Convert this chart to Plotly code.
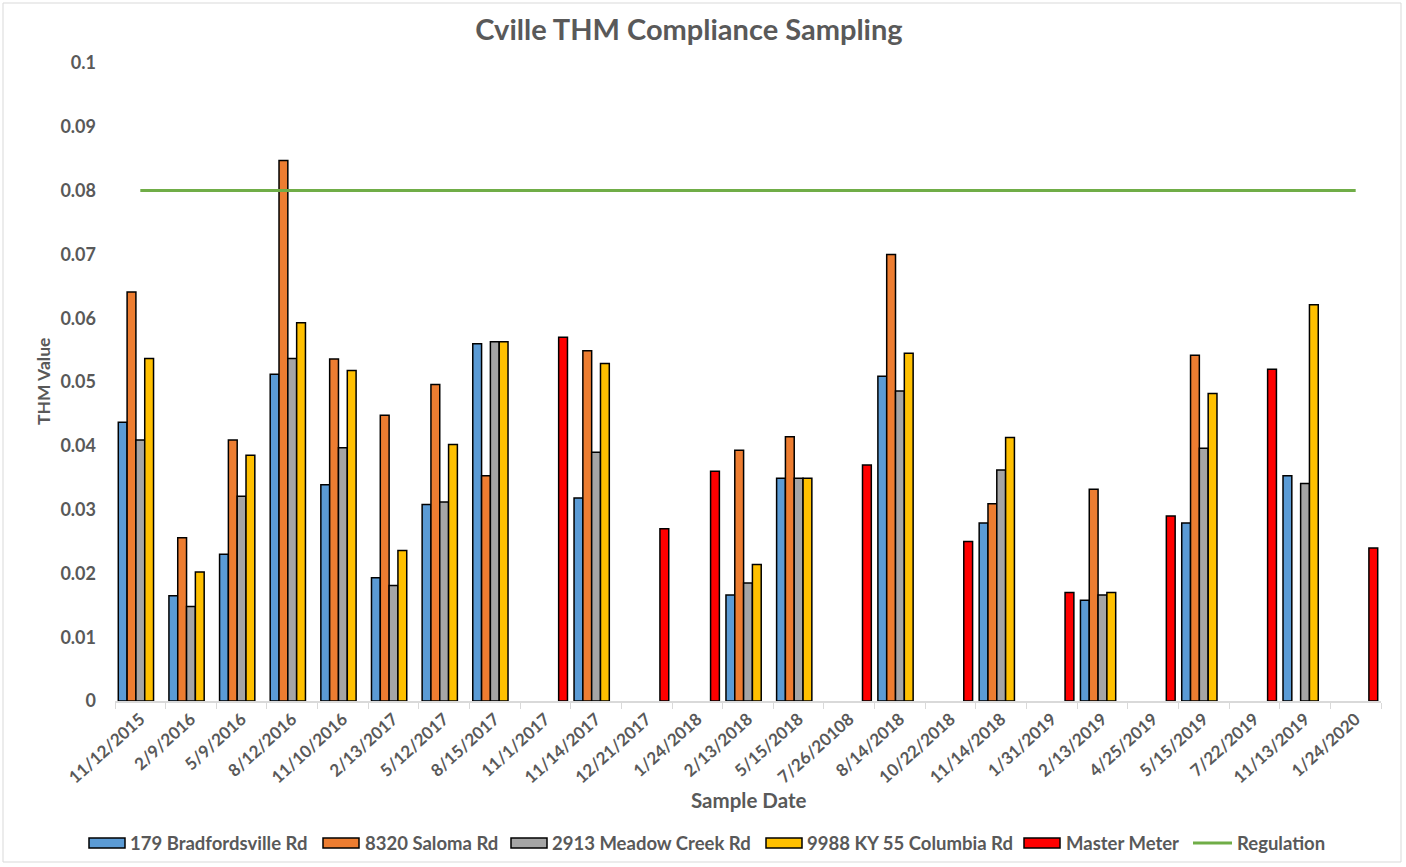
import plotly.graph_objects as go

dates = ["11/12/2015", "2/9/2016", "5/9/2016", "8/12/2016", "11/10/2016", "2/13/2017",
         "5/12/2017", "8/15/2017", "11/1/2017", "11/14/2017", "12/21/2017", "1/24/2018",
         "2/13/2018", "5/15/2018", "7/26/20108", "8/14/2018", "10/22/2018", "11/14/2018",
         "1/31/2019", "2/13/2019", "4/25/2019", "5/15/2019", "7/22/2019", "11/13/2019",
         "1/24/2020"]

bradfordsville = [0.0437, 0.0165, 0.0230, 0.0512, 0.0339, 0.0193, 0.0308, 0.0560, None, 0.0318,
                  None, None, 0.0166, 0.0349, None, 0.0509, None, 0.0279, None, 0.0158,
                  None, 0.0279, None, 0.0353, None]
saloma = [0.0641, 0.0256, 0.0409, 0.0847, 0.0536, 0.0448, 0.0496, 0.0353, None, 0.0549,
          None, None, 0.0393, 0.0414, None, 0.0700, None, 0.0309, None, 0.0332,
          None, 0.0542, None, None, None]
meadow_creek = [0.0409, 0.0148, 0.0321, 0.0537, 0.0397, 0.0181, 0.0312, 0.0563, None, 0.0390,
                None, None, 0.0185, 0.0349, None, 0.0486, None, 0.0362, None, 0.0166,
                None, 0.0396, None, 0.0341, None]
columbia = [0.0537, 0.0202, 0.0385, 0.0593, 0.0518, 0.0236, 0.0402, 0.0563, None, 0.0529,
            None, None, 0.0214, 0.0349, None, 0.0545, None, 0.0413, None, 0.0170,
            None, 0.0482, None, 0.0621, None]
master_meter = [None, None, None, None, None, None, None, None, 0.057, None,
                0.027, 0.036, None, None, 0.037, None, 0.025, None, 0.017, None,
                0.029, None, 0.052, None, 0.024]
regulation_limit = 0.08
y_ticks = [0, 0.01, 0.02, 0.03, 0.04, 0.05, 0.06, 0.07, 0.08, 0.09, 0.1]

series = [
    ("179 Bradfordsville Rd", bradfordsville, "#5B9BD5"),
    ("8320 Saloma Rd", saloma, "#ED7D31"),
    ("2913 Meadow Creek Rd", meadow_creek, "#A5A5A5"),
    ("9988 KY 55 Columbia Rd", columbia, "#FFC000"),
    ("Master Meter", master_meter, "#FF0000"),
]
reg_name = "Regulation"
reg_color = "#70AD47"

FONT = "Lato"
TXT = "#595959"

fig = go.Figure()
for name, vals, col in series:
    fig.add_trace(go.Bar(x=dates, y=vals, name=name,
                         marker=dict(color=col, line=dict(color="#000000", width=1.5))))

fig.add_trace(go.Scatter(x=dates, y=[regulation_limit] * len(dates), name=reg_name,
                         mode="lines", line=dict(color=reg_color, width=3)))

L, R, T, B = 115, 25, 63, 166
W, H = 1406, 867
pw = W - L - R
ph = H - T - B


def px(x):
    return (x - L) / pw


def py(y):
    return (H - B - y) / ph


# custom legend (wide swatches like the original)
leg_y = 843
swatch_x = [89, 323, 511, 766, 1024]
text_x = [128, 363, 550, 805, 1064]
shapes = [dict(type="rect", xref="paper", yref="paper", x0=px(3), x1=px(1401),
               y0=py(862), y1=py(3), line=dict(color="#D9D9D9", width=1), layer="below")]
annotations = []
for (name, _, col), sx, tx in zip(series, swatch_x, text_x):
    shapes.append(dict(type="rect", xref="paper", yref="paper", x0=px(sx), x1=px(sx + 36),
                       y0=py(leg_y + 5), y1=py(leg_y - 5), fillcolor=col,
                       line=dict(color="#000000", width=1.5)))
    annotations.append(dict(text=name, xref="paper", yref="paper", x=px(tx), y=py(leg_y),
                            xanchor="left", yanchor="middle", showarrow=False,
                            font=dict(family=FONT, size=18.5, color=TXT, weight="bold")))
shapes.append(dict(type="line", xref="paper", yref="paper", x0=px(1193), x1=px(1232),
                   y0=py(leg_y), y1=py(leg_y), line=dict(color=reg_color, width=3)))
annotations.append(dict(text=reg_name, xref="paper", yref="paper", x=px(1235), y=py(leg_y),
                        xanchor="left", yanchor="middle", showarrow=False,
                        font=dict(family=FONT, size=18.5, color=TXT, weight="bold")))

annotations += [
    dict(text="Sample Date", xref="paper", yref="paper", x=px(748), y=py(800),
         xanchor="center", yanchor="middle", showarrow=False,
         font=dict(family=FONT, size=20.5, color=TXT, weight="bold")),
    dict(text="THM Value", xref="paper", yref="paper", x=px(43), y=py(382),
         xanchor="center", yanchor="middle", showarrow=False, textangle=-90,
         font=dict(family=FONT, size=17.5, color=TXT, weight="bold")),
]

fig.update_layout(
    width=W, height=H,
    margin=dict(l=L, r=R, t=T, b=B, autoexpand=False),
    paper_bgcolor="white", plot_bgcolor="white",
    barmode="group", bargap=0.13, bargroupgap=0,
    title=dict(text="Cville THM Compliance Sampling", x=689 / W, xanchor="center",
               y=1 - 30 / H, yanchor="middle",
               font=dict(family=FONT, size=29, color=TXT, weight="bold")),
    showlegend=False,
    xaxis=dict(type="category", tickangle=-42, showgrid=False, automargin=False,
               showline=True, linecolor="#D9D9D9", linewidth=1.5,
               ticks="outside", tickson="boundaries", ticklen=6, tickcolor="#D9D9D9",
               tickfont=dict(family=FONT, size=17, color=TXT, weight="bold")),
    yaxis=dict(range=[0, 0.1], tickvals=y_ticks, automargin=False,
               showgrid=False, zeroline=False, showline=False,
               ticklabelstandoff=18,
               tickfont=dict(family=FONT, size=18, color=TXT, weight="bold")),
    annotations=annotations,
    shapes=shapes,
)

fig.write_html("out.html", config={"displayModeBar": False},
               post_script="document.body.style.margin='0';")
